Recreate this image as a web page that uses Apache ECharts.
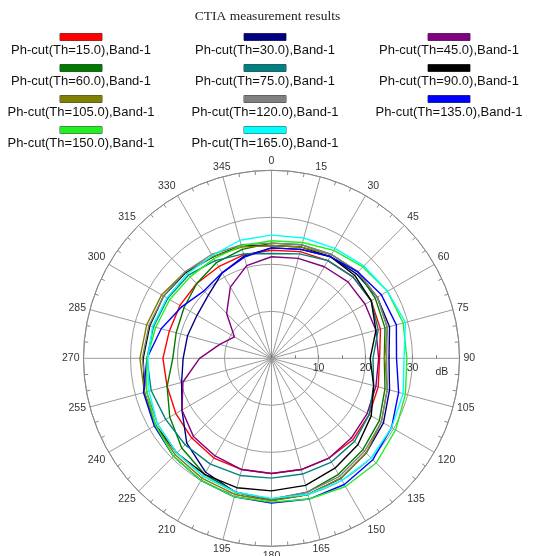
<!DOCTYPE html>
<html>
<head>
<meta charset="utf-8">
<title>CTIA measurement results</title>
<script src="https://cdn.jsdelivr.net/npm/echarts@6/dist/echarts.min.js"></script>
<style>
  html, body { margin: 0; padding: 0; background: #ffffff; }
  #chart { width: 535px; height: 556px; }
</style>
</head>
<body>
<div id="chart"></div>
<script>
// Phi cut angles (degrees), 15 degree step
const phiDeg = [0, 15, 30, 45, 60, 75, 90, 105, 120, 135, 150, 165,
                180, 195, 210, 225, 240, 255, 270, 285, 300, 315, 330, 345];

// Measured level (dB) per phi cut, one array per theta
const th15  = [23.0, 23.5, 24.0, 24.5, 24.5, 24.0, 23.0, 23.5, 24.0, 24.5, 24.5, 24.5,
               24.5, 24.5, 24.5, 24.0, 23.5, 23.0, 23.1, 22.5, 22.5, 22.5, 22.5, 22.8];
const th30  = [23.5, 24.0, 25.0, 25.5, 26.0, 26.0, 25.0, 26.0, 27.5, 28.5, 29.5, 30.0,
               30.2, 29.5, 28.0, 25.5, 22.0, 19.8, 18.8, 18.5, 18.3, 19.0, 21.0, 22.5];
const th45  = [21.6, 22.0, 22.5, 23.0, 23.0, 23.0, 22.8, 23.0, 23.5, 24.0, 24.5, 24.5,
               24.5, 24.5, 24.0, 23.5, 22.0, 19.5, 15.3, 11.4, 9.1, 13.5, 17.5, 20.4];
const th60  = [24.5, 25.0, 25.5, 26.0, 25.5, 25.0, 24.0, 25.0, 26.5, 27.5, 28.5, 29.5,
               30.0, 29.5, 28.5, 27.0, 25.0, 23.0, 21.0, 21.0, 21.5, 22.5, 23.5, 24.0];
const th75  = [22.3, 23.0, 24.0, 24.5, 24.5, 23.5, 21.6, 22.5, 24.0, 25.0, 25.5, 25.5,
               25.5, 25.8, 26.0, 26.0, 26.0, 26.5, 26.5, 26.0, 25.5, 25.0, 24.0, 23.0];
const th90  = [24.0, 24.5, 25.0, 25.0, 24.5, 23.0, 21.0, 22.5, 24.5, 26.0, 27.0, 28.0,
               28.2, 28.5, 28.5, 28.5, 28.5, 28.0, 27.3, 26.8, 26.5, 25.8, 24.9, 24.8];
const th105 = [24.0, 24.5, 25.5, 26.0, 26.0, 25.5, 24.1, 25.5, 27.0, 28.5, 29.5, 30.0,
               30.3, 30.0, 29.5, 29.0, 28.5, 28.0, 28.0, 27.5, 27.0, 26.0, 25.0, 24.5];
const th120 = [24.5, 25.0, 25.5, 26.0, 26.0, 25.5, 24.5, 25.5, 27.0, 28.0, 29.0, 29.5,
               30.0, 29.5, 29.0, 28.5, 28.0, 27.5, 27.5, 27.0, 26.5, 26.0, 25.5, 25.0];
const th135 = [23.5, 24.0, 25.0, 26.0, 27.0, 27.5, 26.6, 28.0, 29.5, 30.5, 31.0, 31.0,
               30.8, 30.5, 30.0, 29.5, 28.8, 28.2, 26.5, 24.3, 22.0, 20.3, 21.0, 22.3];
const th150 = [25.0, 25.5, 26.5, 27.5, 28.5, 29.0, 28.8, 29.5, 30.5, 31.5, 31.5, 31.0,
               30.6, 30.5, 30.0, 29.5, 28.5, 27.5, 26.5, 25.5, 25.0, 24.5, 24.5, 24.8];
const th165 = [26.2, 26.5, 27.0, 27.8, 28.5, 29.5, 28.2, 29.0, 29.5, 30.0, 30.0, 30.0,
               29.8, 29.5, 29.0, 28.5, 28.0, 27.0, 26.3, 26.2, 25.7, 25.4, 25.2, 26.0];

// Radial ring values and the angle tick step
const ringTicks = [10, 20, 30];
const radiusMax = 40;
const angleStep = 15;

const cuts = [
  { name: 'Ph-cut(Th=15.0),Band-1',  values: th15,  color: '#ff0000' },
  { name: 'Ph-cut(Th=30.0),Band-1',  values: th30,  color: '#000080' },
  { name: 'Ph-cut(Th=45.0),Band-1',  values: th45,  color: '#800080' },
  { name: 'Ph-cut(Th=60.0),Band-1',  values: th60,  color: '#007a00' },
  { name: 'Ph-cut(Th=75.0),Band-1',  values: th75,  color: '#008080' },
  { name: 'Ph-cut(Th=90.0),Band-1',  values: th90,  color: '#000000' },
  { name: 'Ph-cut(Th=105.0),Band-1', values: th105, color: '#808000' },
  { name: 'Ph-cut(Th=120.0),Band-1', values: th120, color: '#808080' },
  { name: 'Ph-cut(Th=135.0),Band-1', values: th135, color: '#0000ff' },
  { name: 'Ph-cut(Th=150.0),Band-1', values: th150, color: '#22ee22' },
  { name: 'Ph-cut(Th=165.0),Band-1', values: th165, color: '#00ffff' }
];

// Closed polygon per cut: [radius, angle] pairs, first point repeated at 360
function loop(values) {
  const pts = values.map((v, i) => [v, phiDeg[i]]);
  pts.push([values[0], 360]);
  return pts;
}

// Legend: colour bar above a centred caption, three columns
const rich = {
  t: { width: 152, align: 'center', fontSize: 13, lineHeight: 20,
       fontFamily: 'Liberation Sans, Arial, sans-serif', color: '#111' }
};
cuts.forEach((c, i) => {
  rich['b' + i] = { width: 42, height: 7, lineHeight: 7, align: 'center',
                    backgroundColor: c.color, borderColor: '#444', borderWidth: 0.5 };
});
const nameIndex = {};
cuts.forEach((c, i) => { nameIndex[c.name] = i; });

function legendColumn(names, left) {
  return {
    orient: 'vertical', left: left, top: 31, padding: 0,
    icon: 'none', itemWidth: 0, itemHeight: 27, itemGap: 5,
    selectedMode: false,
    data: names,
    formatter: (n) => '{b' + nameIndex[n] + '|}\n{t|' + n + '}',
    textStyle: { rich: rich }
  };
}
const colCount = 3;
const columns = [[], [], []];
cuts.forEach((c, i) => columns[i % colCount].push(c.name));

const gridColor = '#9a9a9a';
const labelFont = 'Liberation Sans, Arial, sans-serif';

const chart = echarts.init(document.getElementById('chart'), null, { renderer: 'canvas' });
chart.setOption({
  animation: false,
  backgroundColor: '#ffffff',
  title: {
    text: 'CTIA measurement results',
    left: 'center', top: 9, padding: 0,
    textStyle: { fontFamily: 'Liberation Serif, Times New Roman, serif',
                 fontSize: 13.5, fontWeight: 'normal', color: '#222' }
  },
  legend: [
    legendColumn(columns[0], 0),
    legendColumn(columns[1], 184),
    legendColumn(columns[2], 368)
  ],
  polar: [
    { center: [271.5, 358.3], radius: 188 },
    { center: [271.5, 358.3], radius: 188 }
  ],
  angleAxis: [
    {
      polarIndex: 0, type: 'value', min: 0, max: 360, interval: angleStep,
      startAngle: 90, clockwise: true,
      axisLine: { lineStyle: { color: '#888', width: 1 } },
      axisTick: { show: false, inside: false },
      // negative length draws the 5-degree ticks towards the centre
      minorTick: { show: true, splitNumber: 3, length: -4, lineStyle: { color: '#888' } },
      splitLine: { show: true, lineStyle: { color: gridColor, width: 1 } },
      axisLabel: { margin: 4, fontSize: 10.5, color: '#333', fontFamily: labelFont,
                   formatter: (v) => (v === 360 ? '' : String(v)) }
    },
    {
      polarIndex: 1, type: 'value', min: 0, max: 360, startAngle: 0, show: false
    }
  ],
  radiusAxis: [
    {
      polarIndex: 0, type: 'value', min: 0, max: radiusMax, interval: 10,
      axisLine: { show: false }, axisTick: { show: false }, axisLabel: { show: false },
      splitLine: { show: true, lineStyle: { color: gridColor, width: 1 } }
    },
    {
      polarIndex: 1, type: 'value', min: 0, max: radiusMax, interval: 10,
      axisLine: { show: false },
      axisTick: { show: true, inside: true, length: 3, lineStyle: { color: '#777' } },
      minorTick: { show: true, splitNumber: 2, length: 3, lineStyle: { color: '#777' } },
      splitLine: { show: false },
      axisLabel: { margin: -15, fontSize: 10.5, color: '#333', fontFamily: labelFont,
                   formatter: (v) => (ringTicks.indexOf(v) >= 0 ? String(v) : '') },
      name: 'dB', nameLocation: 'end', nameGap: -24,
      nameTextStyle: { fontSize: 10.5, color: '#333', fontFamily: labelFont,
                       verticalAlign: 'top', padding: [8, 0, 0, 0] }
    }
  ],
  series: cuts.map((c) => ({
    name: c.name,
    type: 'line',
    coordinateSystem: 'polar',
    polarIndex: 0,
    symbol: 'none',
    color: c.color,
    lineStyle: { width: 1.4, color: c.color },
    emphasis: { disabled: true },
    data: loop(c.values)
  }))
});
</script>
</body>
</html>
